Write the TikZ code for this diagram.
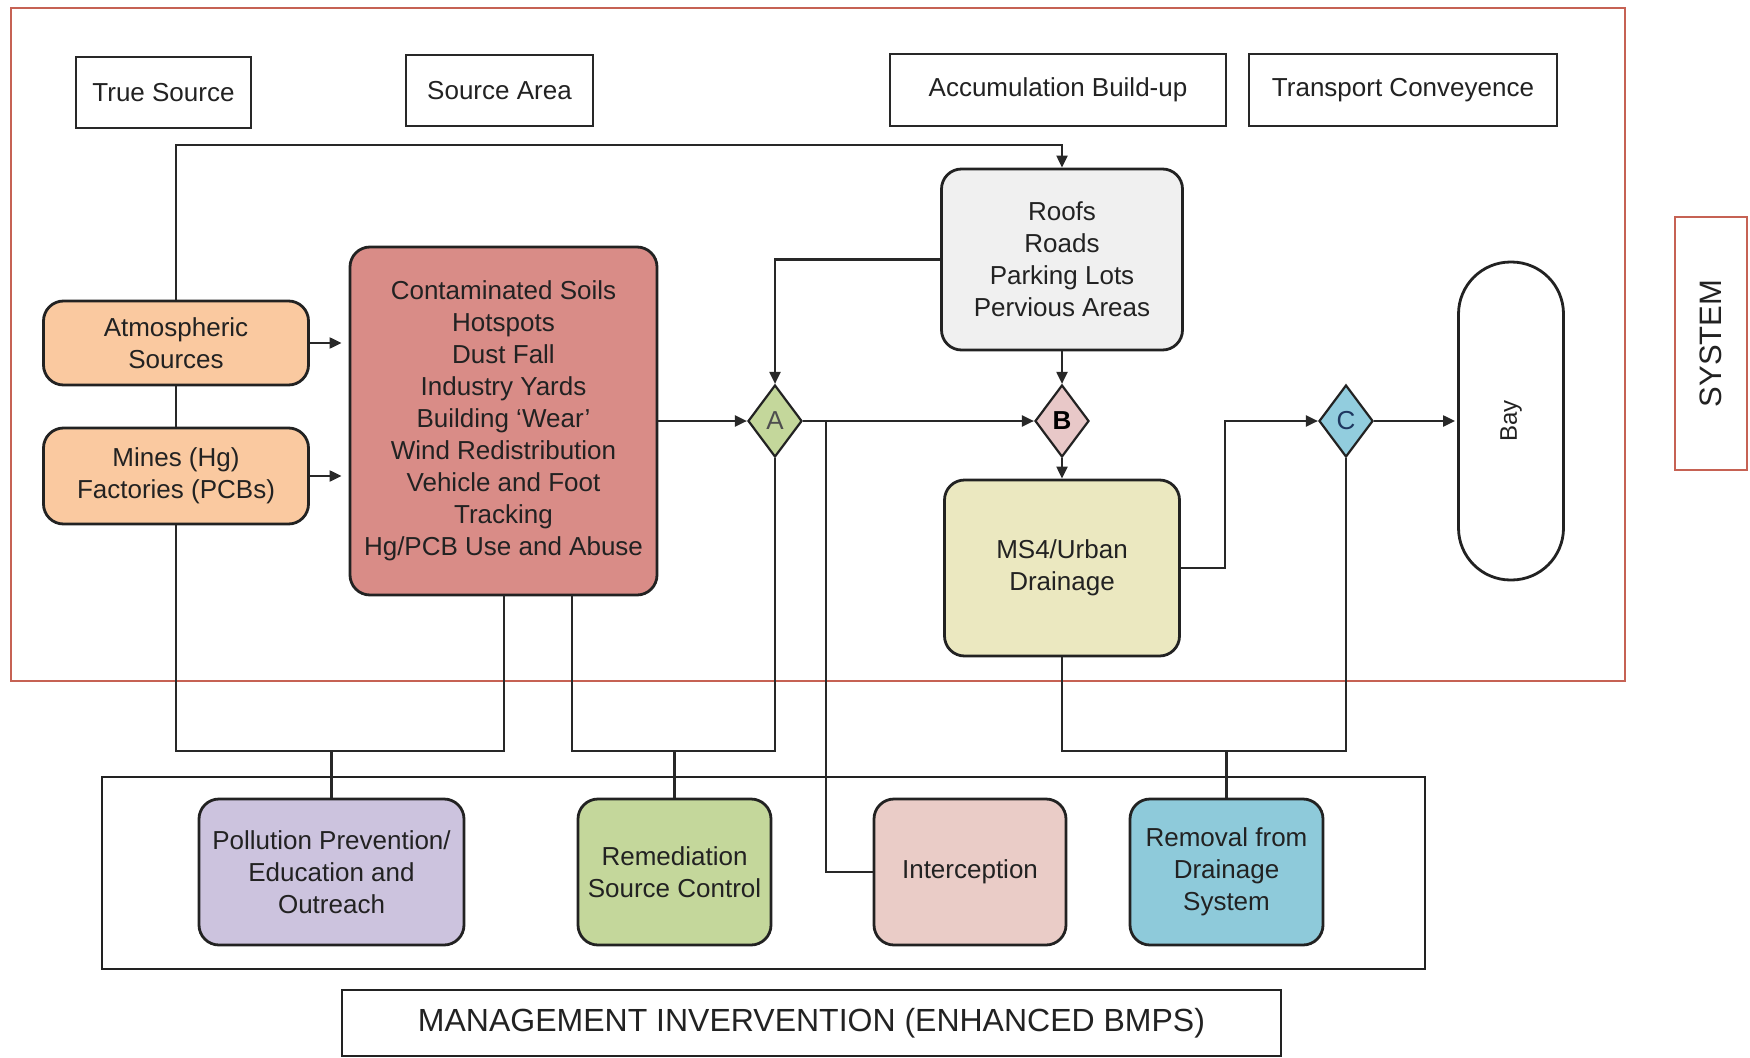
\documentclass[tikz,border=0pt]{standalone}
\usepackage{fontspec}
\setmainfont{Liberation Sans}
\usetikzlibrary{arrows.meta,shapes.geometric,calc}
\definecolor{frameRed}{RGB}{198,98,84}
\definecolor{peach}{RGB}{250,201,160}
\definecolor{soilRose}{RGB}{217,140,135}
\definecolor{roofGray}{RGB}{240,240,240}
\definecolor{msKhaki}{RGB}{235,232,192}
\definecolor{aGreen}{RGB}{196,215,155}
\definecolor{bPink}{RGB}{232,200,200}
\definecolor{cBlue}{RGB}{146,205,222}
\definecolor{lav}{RGB}{204,195,222}
\definecolor{intPink}{RGB}{234,204,199}
\definecolor{remBlue}{RGB}{142,202,218}
\definecolor{ink}{RGB}{34,34,34}
\definecolor{lineGray}{RGB}{40,40,40}
\tikzset{
  txt/.style={font=\fontsize{26}{32}\selectfont, text=ink, align=center},
  hdr/.style={txt, draw=lineGray, line width=1.8pt, fill=white, inner sep=0pt},
  rbox/.style={txt, draw=ink, line width=2.8pt, rounded corners=20pt, inner sep=0pt},
  dia/.style={diamond, draw=ink, line width=2.2pt, inner sep=0pt, minimum width=54pt, minimum height=72pt, font=\fontsize{26}{32}\selectfont},
  conn/.style={draw=lineGray, line width=2.1pt},
  arr/.style={conn, -{Triangle[length=12pt,width=11pt]}},
}
\begin{document}
\begin{tikzpicture}[x=1pt,y=-1pt]
\useasboundingbox (0,0) rectangle (1750,1057);
% system frame
\draw[frameRed, line width=2.4pt] (11,8) rectangle (1625,681);
\node[hdr, draw=frameRed, line width=2.4pt, minimum width=72pt, minimum height=253pt] (sys) at (1711,343.5) {};
\node[txt, rotate=90, font=\fontsize{31}{34}\selectfont] (systxt) at (sys) {SYSTEM};
% headers
\node[hdr, minimum width=175pt, minimum height=71pt] (h1) at (163.5,92.5) {True Source};
\node[hdr, minimum width=187pt, minimum height=71pt] (h2) at (499.5,90.5) {Source Area};
\node[hdr, minimum width=336pt, minimum height=72pt] (h3) at (1058,90) {Accumulation Build-up};
\node[hdr, minimum width=308pt, minimum height=72pt] (h4) at (1403,90) {Transport Conveyence};
% source boxes
\node[rbox, fill=peach, minimum width=265pt, minimum height=84pt] (atm) at (176,343) {Atmospheric\\Sources};
\node[rbox, fill=peach, minimum width=265pt, minimum height=96pt] (mines) at (176,476) {Mines (Hg)\\Factories (PCBs)};
\node[rbox, fill=soilRose, minimum width=307pt, minimum height=348pt] (soils) at (503.5,421) {Contaminated Soils\\Hotspots\\Dust Fall\\Industry Yards\\Building `Wear'\\Wind Redistribution\\Vehicle and Foot\\Tracking\\Hg/PCB Use and Abuse};
\node[rbox, fill=roofGray, minimum width=241pt, minimum height=181pt] (roofs) at (1062,259.5) {Roofs\\Roads\\Parking Lots\\Pervious Areas};
\node[rbox, fill=msKhaki, minimum width=235pt, minimum height=176pt] (ms4) at (1062,568) {MS4/Urban\\Drainage};
\node[draw=ink, line width=2.8pt, rounded corners=52pt, fill=white, minimum width=105pt, minimum height=318pt, inner sep=0pt] (bay) at (1511,421) {};
\node[txt, rotate=90, font=\fontsize{24}{30}\selectfont] (baytxt) at (bay) {Bay};
% decision diamonds
\node[dia, fill=aGreen, text=ink!80] (A) at (775,421) {A};
\node[dia, fill=bPink, font=\fontsize{26}{32}\selectfont\bfseries, text=black] (B) at (1062,421) {B};
\node[dia, fill=cBlue, text={rgb,255:red,30;green,55;blue,95}] (C) at (1346,421) {C};
% management
\draw[ink, line width=2.8pt] (102,777) rectangle (1425,969);
\node[rbox, fill=lav, minimum width=265pt, minimum height=146pt] (pp) at (331.5,872) {Pollution Prevention/\\Education and\\Outreach};
\node[rbox, fill=aGreen, minimum width=193pt, minimum height=146pt] (rem) at (674.5,872) {Remediation\\Source Control};
\node[rbox, fill=intPink, minimum width=192pt, minimum height=146pt] (intc) at (970,872) {Interception};
\node[rbox, fill=remBlue, minimum width=193pt, minimum height=146pt] (remv) at (1226.5,872) {Removal from\\Drainage\\System};
\node[hdr, line width=2.8pt, draw=ink, minimum width=939pt, minimum height=66pt, font=\fontsize{32}{36}\selectfont] (mgmt) at (811.5,1023) {MANAGEMENT INVERVENTION (ENHANCED BMPS)};
% junction coordinates
\coordinate (topY) at (176,145);
\coordinate (bus1) at ($(pp.north)+(0,-47)$);
\coordinate (bus2) at ($(rem.north)+(0,-47)$);
\coordinate (bus3) at ($(remv.north)+(0,-47)$);
\coordinate (soilL) at (504,595);
\coordinate (soilR) at (572,595);
\coordinate (tap) at (826,421);
\coordinate (kink) at (1225,568);
% connectors
\draw[arr] (atm.north) -- (topY) -| (roofs.north);
\draw[conn] (atm.south) -- (mines.north);
\draw[arr, shorten >=7pt] (atm.east) -- (atm.east -| soils.west);
\draw[arr, shorten >=7pt] (mines.east) -- (mines.east -| soils.west);
\draw[arr] (soils.east) -- (A.west);
\draw[arr] (A.east) -- (B.west);
\draw[arr] (roofs.west) -| (A.north);
\draw[arr] (roofs.south) -- (B.north);
\draw[arr] (B.south) -- (ms4.north);
\draw[arr] (ms4.east) -- (kink) |- (C.west);
\draw[arr, shorten >=2pt] (C.east) -- (bay.west);
\draw[conn] (mines.south) |- (bus1) -| (soilL);
\draw[conn] (pp.north) -- (bus1);
\draw[conn] (soilR) |- (bus2) -| (A.south);
\draw[conn] (rem.north) -- (bus2);
\draw[conn] (tap) |- (intc.west);
\draw[conn] (ms4.south) |- (bus3) -| (C.south);
\draw[conn] (remv.north) -- (bus3);
\end{tikzpicture}
\end{document}
